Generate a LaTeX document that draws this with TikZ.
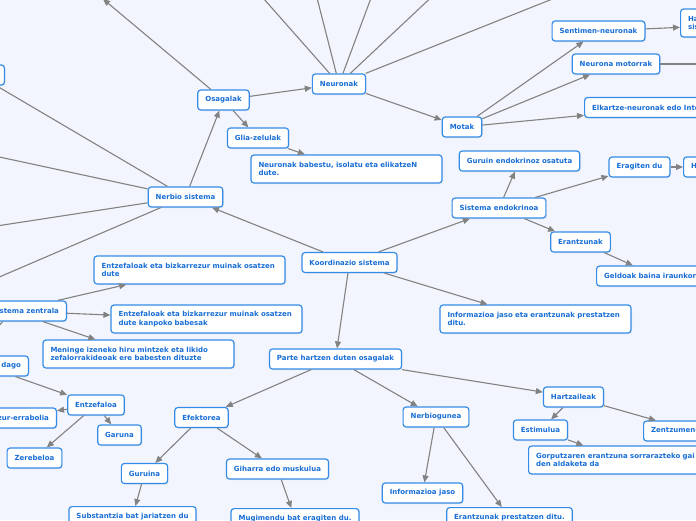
\documentclass[tikz,border=0pt]{standalone}
\usepackage{fontspec}
\setmainfont{DejaVu Sans}
\usetikzlibrary{arrows.meta,shadows}
\definecolor{bgcol}{RGB}{242,245,253}
\definecolor{boxline}{RGB}{52,140,232}
\definecolor{boxtext}{RGB}{24,110,214}
\definecolor{edgecol}{RGB}{130,130,130}

\begin{document}
\begin{tikzpicture}[x=1pt,y=-1pt,
    topic/.style={draw=boxline, line width=1.2pt, fill=white, rounded corners=3pt,
      text=boxtext, font=\bfseries\fontsize{7}{8.7}\selectfont,
      inner xsep=7.5pt, inner ysep=2pt, minimum height=20pt,
      drop shadow={opacity=0.15, shadow xshift=1pt, shadow yshift=-1pt}},
    desc/.style={topic, text width=176pt, align=left, inner ysep=5pt, minimum height=28pt},
    link/.style={draw=edgecol, line width=1.1pt, -{Triangle[length=7pt,width=6pt]}}]
                    \useasboundingbox (0,0) rectangle (696,520);
                    \clip (0,0) rectangle (696,520);
                    \fill[bgcol] (0,0) rectangle (696,520);
                    % Nodes
                    \node[topic] (koordinazio) at (349.5,262.5) {Koordinazio sistema};
                    \node[topic] (nerbio) at (185.5,197) {Nerbio sistema};
                    \node[topic] (osagalak) at (223.5,100) {Osagalak};
                    \node[topic] (neuronak) at (339,84) {Neuronak};
                    \node[topic] (glia) at (258,138) {Glia-zelulak};
                    \node[desc] (babestu) at (346.5,169) {Neuronak babestu, isolatu eta elikatzeN\\dute.};
                    \node[topic] (motak) at (462,127) {Motak};
                    \node[topic] (sentimen) at (598.5,31) {Sentimen-neuronak};
                    \node[topic] (motorrak) at (616,64) {Neurona motorrak};
                    \node[topic, anchor=west] (elkartze) at (584,107.5) {Elkartze-neuronak edo Interneuronak};
                    \node[desc, anchor=west] (hartu) at (680,23) {Hartzaileetatik informazioa nerbio\\sistema zentralera eramaten dute};
                    \node[topic, anchor=east] (periferikoa) at (5,75) {Nerbio sistema periferikoa};
                    \node[topic] (endokrino) at (499,208) {Sistema endokrinoa};
                    \node[topic] (guruin) at (519.5,161) {Guruin endokrinoz osatuta};
                    \node[topic] (eragiten) at (639.5,167) {Eragiten du};
                    \node[topic, anchor=west] (hormonak) at (683,167) {Hormonak jariatzen ditu};
                    \node[topic] (erantzunak) at (580.5,242) {Erantzunak};
                    \node[topic, anchor=west] (geldoak) at (596,276) {Geldoak baina iraunkorrak};
                    \node[desc] (informazioa) at (535.5,319) {Informazioa jaso eta erantzunak prestatzen\\ditu.};
                    \node[topic, anchor=east] (zentrala) at (67,311) {Nerbio sistema zentrala};
                    \node[desc] (muinak) at (189.5,270) {Entzefaloak eta bizkarrezur muinak osatzen\\dute};
                    \node[desc] (babesak) at (206.5,319) {Entzefaloak eta bizkarrezur muinak osatzen\\dute kanpoko babesak};
                    \node[desc] (meninge) at (138.5,354) {Meninge izeneko hiru mintzek eta likido\\zefalorrakideoak ere babesten dituzte};
                    \node[topic, anchor=east] (dago) at (29,366) {Garezurrean dago};
                    \node[topic] (entzefaloa) at (96,405) {Entzefaloa};
                    \node[topic, anchor=east] (errabolia) at (57,418) {Bizkarrezur-errabolia};
                    \node[topic] (garuna) at (119.5,435) {Garuna};
                    \node[topic] (zerebeloa) at (34.5,458) {Zerebeloa};
                    \node[topic] (parte) at (335.5,359) {Parte hartzen duten osagalak};
                    \node[topic] (efektorea) at (201.5,417.5) {Efektorea};
                    \node[topic] (guruina) at (144.5,473.5) {Guruina};
                    \node[topic] (giharra) at (277.5,469) {Giharra edo muskulua};
                    \node[topic, anchor=north] (substantzia) at (132.5,506) {Substantzia bat jariatzen du};
                    \node[topic, anchor=north] (mugimendu) at (295,508) {Mugimendu bat eragiten du.};
                    \node[topic] (nerbiogunea) at (436,417) {Nerbiogunea};
                    \node[topic] (jaso) at (422.5,493) {Informazioa jaso};
                    \node[topic, anchor=north] (prestatzen) at (509.5,507) {Erantzunak prestatzen ditu.};
                    \node[topic] (hartzaileak) at (573.5,397) {Hartzaileak};
                    \node[topic] (estimulua) at (540.5,430) {Estimulua};
                    \node[topic, anchor=west] (zentzumen) at (643,431) {Zentzumen-organoak};
                    \node[desc, anchor=west] (gorputza) at (528,460) {Gorputzaren erantzuna sorrarazteko gai\\den aldaketa da};
                    % Loose ends outside the frame
                    \coordinate (osaUp) at (103,-1);
                    \coordinate (neu1) at (256,-10);
                    \coordinate (neu2) at (315,-10);
                    \coordinate (neu3) at (374,-10);
                    \coordinate (neu4) at (439,-10);
                    \coordinate (neu5) at (575,-10);
                    \coordinate (ner1) at (-10,82);
                    \coordinate (ner2) at (-10,155);
                    \coordinate (ner3) at (-10,227);
                    \coordinate (ner4) at (-10,281);
                    \coordinate (motOut) at (710,64);
                    \coordinate (zenOut) at (-15,342);
                    % Edges
                    \draw[link] (koordinazio) -- (nerbio);
                    \draw[link] (koordinazio) -- (endokrino);
                    \draw[link] (koordinazio) -- (informazioa);
                    \draw[link] (koordinazio) -- (parte);
                    \draw[link] (nerbio) -- (osagalak);
                    \draw[link] (nerbio) -- (ner1);
                    \draw[link] (nerbio) -- (ner2);
                    \draw[link] (nerbio) -- (ner3);
                    \draw[link] (nerbio) -- (ner4);
                    \draw[link] (osagalak) -- (osaUp);
                    \draw[link] (osagalak) -- (neuronak);
                    \draw[link] (osagalak) -- (glia);
                    \draw[link] (glia) -- (babestu);
                    \draw[link] (neuronak) -- (neu1);
                    \draw[link] (neuronak) -- (neu2);
                    \draw[link] (neuronak) -- (neu3);
                    \draw[link] (neuronak) -- (neu4);
                    \draw[link] (neuronak) -- (neu5);
                    \draw[link] (neuronak) -- (motak);
                    \draw[link] (motak) -- (sentimen);
                    \draw[link] (motak) -- (motorrak);
                    \draw[link] (motak) -- (elkartze);
                    \draw[link] (sentimen) -- (hartu);
                    \draw[link] (motorrak) -- (motOut);
                    \draw[link] (endokrino) -- (guruin);
                    \draw[link] (endokrino) -- (eragiten);
                    \draw[link] (endokrino) -- (erantzunak);
                    \draw[link] (eragiten) -- (hormonak);
                    \draw[link] (erantzunak) -- (geldoak);
                    \draw[link] (zentrala) -- (muinak);
                    \draw[link] (zentrala) -- (babesak);
                    \draw[link] (zentrala) -- (meninge);
                    \draw[link] (zentrala) -- (zenOut);
                    \draw[link] (dago) -- (entzefaloa);
                    \draw[link] (entzefaloa) -- (errabolia);
                    \draw[link] (entzefaloa) -- (garuna);
                    \draw[link] (entzefaloa) -- (zerebeloa);
                    \draw[link] (parte) -- (efektorea);
                    \draw[link] (parte) -- (nerbiogunea);
                    \draw[link] (parte) -- (hartzaileak);
                    \draw[link] (efektorea) -- (guruina);
                    \draw[link] (efektorea) -- (giharra);
                    \draw[link] (guruina) -- (substantzia);
                    \draw[link] (giharra) -- (mugimendu);
                    \draw[link] (nerbiogunea) -- (jaso);
                    \draw[link] (nerbiogunea) -- (prestatzen);
                    \draw[link] (hartzaileak) -- (estimulua);
                    \draw[link] (hartzaileak) -- (zentzumen);
                    \draw[link] (estimulua) -- (gorputza);
                \end{tikzpicture}
\end{document}
